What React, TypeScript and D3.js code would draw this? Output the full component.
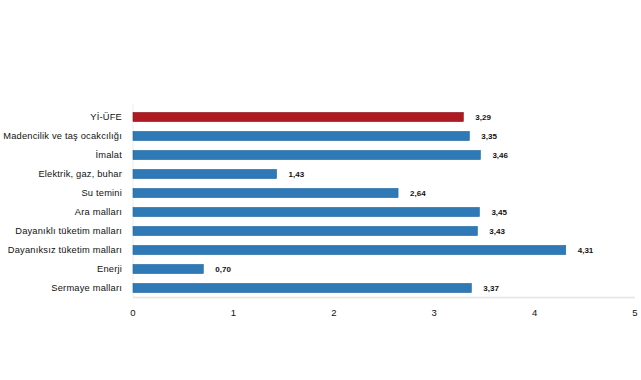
import React from "react";
import * as d3 from "d3";

const categories = [
  "Yİ-ÜFE",
  "Madencilik ve taş ocakcılığı",
  "İmalat",
  "Elektrik, gaz, buhar",
  "Su temini",
  "Ara malları",
  "Dayanıklı tüketim malları",
  "Dayanıksız tüketim malları",
  "Enerji",
  "Sermaye malları",
];
const values = [3.29, 3.35, 3.46, 1.43, 2.64, 3.45, 3.43, 4.31, 0.7, 3.37];
const xTicks = [0, 1, 2, 3, 4, 5];

export default function App() {
  const W = 641, H = 380;
  const left = 133, right = 635;
  const top = 107.5, bottom = 297.5;
  const x = d3.scaleLinear().domain([0, 5]).range([left, right]);
  const y = d3.scaleBand<string>().domain(categories).range([top, bottom]).paddingInner(0.52).paddingOuter(0.26);
  const fmt = (v: number) => v.toFixed(2).replace(".", ",");
  return (
    <svg width={W} height={H} style={{ position: "absolute", left: 0, top: 0, background: "#fff" }}
      fontFamily="Liberation Sans, Arial, sans-serif">
      <line x1={left} x2={left} y1={top - 3} y2={bottom} stroke="#ececec" strokeWidth={1} />
      <line x1={left} x2={right} y1={bottom} y2={bottom} stroke="#e4e4e4" strokeWidth={1.5} />
      {categories.map((c, i) => {
        const yy = y(c)!;
        const bw = y.bandwidth();
        return (
          <g key={c}>
            <rect x={left} y={yy} width={x(values[i]) - left} height={bw}
              fill={i === 0 ? "#ad1a22" : "#2f79b6"} stroke={i === 0 ? "#8e1219" : "#24679f"} strokeWidth={0.6} />
            <text x={122} y={yy + bw / 2} dy="0.35em" textAnchor="end" fontSize={9.3} letterSpacing={0.2} fill="#111">{c}</text>
            <text x={x(values[i]) + 12} y={yy + bw / 2} dy="0.35em" fontSize={8} fontWeight="bold" fill="#111">{fmt(values[i])}</text>
          </g>
        );
      })}
      {xTicks.map((t) => (
        <text key={t} x={x(t)} y={313} dy="0.35em" textAnchor="middle" fontSize={9.5} fill="#111">{t}</text>
      ))}
    </svg>
  );
}
